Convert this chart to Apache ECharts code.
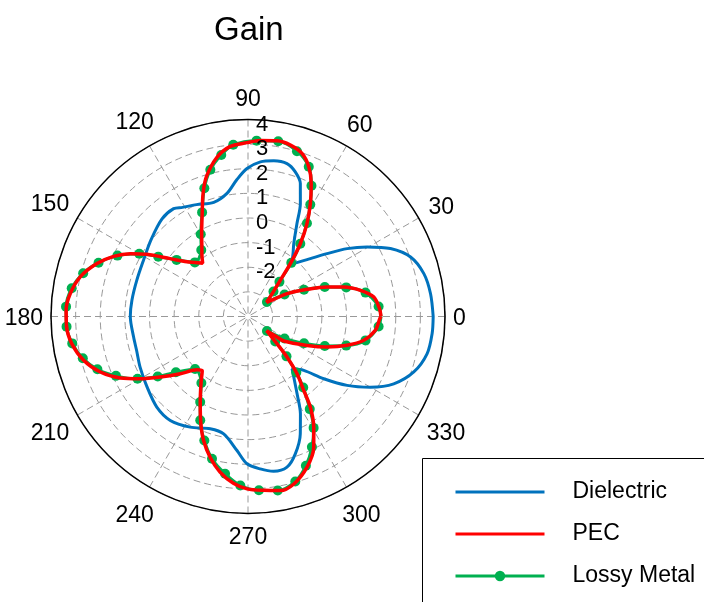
<!DOCTYPE html>
<html>
<head>
<meta charset="utf-8">
<script src="https://cdn.jsdelivr.net/npm/echarts@6/dist/echarts.min.js"></script>
<style>
  html, body { margin: 0; padding: 0; background: #ffffff; }
  #chart { width: 704px; height: 602px; }
</style>
</head>
<body>
<div id="chart"></div>
<script>
// Gain patterns in dB against azimuth (degrees)
const dielectricAngles = [0, 7.1, 13.7, 20.1, 25.5, 30.3, 34.4, 38.5, 43.9, 50.2, 54.5, 57.9, 62.2, 65.1, 68.5, 71.9, 75.7, 80.6, 85.4, 90.4, 94.7, 99.7, 106.7, 114.7, 121, 124.6, 131.5, 141.7, 151.7, 162, 172, 180, 190.2, 197, 205.1, 214.9, 224.8, 233.2, 242.4, 251.4, 258.3, 265.3, 269.6, 274.6, 279.4, 284.5, 289, 294, 298.3, 302.4, 307.1, 310.1, 316, 320.6, 325.2, 330, 335.2, 341.5, 348.3, 354.7, 360];
const dielectricGain = [3.52, 3.47, 3.35, 3.03, 2.41, 1.6, 0.88, 0.1, -0.67, -1.22, -0.85, -0.5, 0.26, 1.05, 1.8, 2.18, 2.41, 2.41, 2.3, 2.01, 1.57, 1.07, 0.84, 1.0, 1.17, 1.32, 1.28, 1.02, 0.82, 0.75, 0.76, 0.78, 0.72, 0.73, 0.84, 1.0, 1.22, 1.27, 1.07, 0.81, 0.87, 1.46, 1.98, 2.21, 2.37, 2.32, 1.9, 1.22, 0.49, -0.28, -0.92, -1.22, -0.85, -0.02, 0.9, 1.74, 2.52, 3.1, 3.43, 3.51, 3.52];

const pecAngles = [0, 3.4, 8.8, 13.1, 17.1, 20.5, 24.7, 30.3, 32.7, 37.4, 44.6, 48.3, 51.3, 54.3, 57.6, 61.1, 64.6, 67.9, 71.6, 76.1, 80.6, 86, 90.3, 96.1, 101.1, 106.5, 110, 113.9, 119.1, 124, 127, 130.4, 134.5, 138.2, 143.4, 148.4, 151.9, 155.9, 160.7, 166.7, 172.7, 178, 183, 188.8, 194.9, 200.6, 205.7, 210, 214.6, 220.2, 226.2, 229.8, 235, 241.3, 246.3, 250.3, 255, 259.8, 265, 269.7, 275.2, 280.5, 285.3, 291.4, 296.7, 300.7, 304.5, 307, 310.6, 313.9, 316.8, 318.9, 322.6, 324.6, 325.5, 333.9, 338.9, 343.8, 348.4, 353.8, 359, 360];
const pecGain = [1.40, 1.35, 1.17, 0.69, 0.07, -0.57, -1.36, -2.16, -2.6, -3.05, -2.53, -2.03, -1.25, -0.36, 0.47, 1.24, 1.98, 2.56, 2.97, 3.17, 3.23, 3.16, 3.06, 2.94, 2.58, 1.93, 1.33, 0.59, -0.13, -0.65, -0.89, -1.16, -0.92, -0.67, -0.06, 0.82, 1.42, 1.98, 2.5, 3.0, 3.28, 3.39, 3.38, 3.24, 2.91, 2.41, 1.76, 1.06, 0.33, -0.4, -1.0, -1.12, -0.67, 0.04, 0.76, 1.35, 1.93, 2.42, 2.8, 3.0, 3.09, 3.19, 3.05, 2.57, 1.94, 1.23, 0.47, -0.24, -0.94, -1.72, -2.38, -2.71, -3.05, -2.63, -2.24, -1.33, -0.56, 0.19, 0.8, 1.2, 1.35, 1.40];

// Lossy metal: marker positions along the trace (0 and 360 are pass-through points without a marker)
const lossyAngles = [0, 4.4, 11.5, 16.5, 21, 25.5, 31, 37.5, 44.5, 47.8, 51.1, 54.3, 57.7, 60.9, 64.1, 67.9, 73.5, 80.2, 87.2, 94.9, 99.4, 104.4, 108.8, 113.8, 119.9, 125.1, 134.5, 141.6, 146.3, 150, 155, 160.2, 165.3, 170.9, 176.9, 183.2, 188.7, 194.2, 199.3, 204.2, 209.4, 213.6, 217.7, 224.8, 235, 240.8, 245.3, 250.6, 255.8, 261.7, 267.4, 273.6, 279.7, 286, 291.2, 296.1, 300.5, 303.7, 307.9, 310.8, 314, 317.5, 322.5, 329, 334.5, 339, 343.5, 348.5, 355.6, 360];
const lossyGain = [1.40, 1.32, 0.87, 0.16, -0.66, -1.48, -2.27, -3.03, -2.55, -2.1, -1.2, -0.36, 0.48, 1.2, 1.9, 2.56, 3.0, 3.22, 3.15, 3.0, 2.65, 2.15, 1.5, 0.62, -0.15, -0.7, -0.92, -0.3, 0.38, 1.1, 1.85, 2.45, 2.92, 3.25, 3.4, 3.38, 3.22, 2.92, 2.48, 1.88, 1.15, 0.4, -0.3, -0.97, -0.7, -0.02, 0.64, 1.34, 1.96, 2.45, 2.87, 3.07, 3.17, 2.97, 2.5, 1.9, 1.25, 0.52, -0.35, -1.0, -1.75, -2.5, -3.03, -2.27, -1.48, -0.66, 0.16, 0.87, 1.32, 1.40];

const seriesNames = ['Dielectric', 'PEC', 'Lossy Metal'];
const angleTicks = [0, 30, 60, 90, 120, 150, 180, 210, 240, 270, 300, 330];
const angleTickLabels = ['0', '30', '60', '90', '120', '150', '180', '210', '240', '270', '300', '330'];
const radiusMin = -4, radiusMax = 4, radiusStep = 1;
const radiusLabelsShown = [4, 3, 2, 1, 0, -1, -2];

const FONT = 'Liberation Sans, Arial, sans-serif';
const ANGLE_FONT_SIZE = 23;
const ANGLE_LABEL_GAP = 8;      // space between outer circle and label box
const ANGLE_LABEL_BOX_H = 28;   // label box height used for radial clearance
const ANGLE_LABEL_NUDGE_Y = 2.5; // baseline correction for the canvas text box
const gridStyle = { color: '#999999', width: 1, type: [7, 4] };
const COLORS = { dielectric: '#0072BD', pec: '#FF0000', lossy: '#00B050' };

function toPolar(angles, values) {
  return values.map((v, i) => [v, angles[i]]);
}
function lossyData() {
  return lossyGain.map((v, i) => {
    const a = lossyAngles[i];
    const item = { value: [v, a] };
    if (a === 0 || a === 360) item.symbolSize = 0;
    return item;
  });
}

const chart = echarts.init(document.getElementById('chart'), null, { renderer: 'canvas' });
chart.setOption({
  animation: false,
  backgroundColor: '#ffffff',
  title: {
    text: 'Gain',
    left: 209,
    top: 9,
    textStyle: { fontFamily: FONT, fontSize: 33, fontWeight: 'normal', color: '#000' }
  },
  polar: [
    { center: [248, 316.5], radius: 197 },
    { center: [248, 316.5], radius: 197 }
  ],
  angleAxis: [
    {
      polarIndex: 0,
      type: 'value',
      min: 0,
      max: 360,
      interval: 30,
      startAngle: 0,
      clockwise: false,
      axisLine: { show: true, lineStyle: { color: '#000', width: 1.5 } },
      axisTick: { show: false },
      axisLabel: { show: false },
      splitLine: { show: true, lineStyle: gridStyle }
    },
    {
      polarIndex: 1,
      type: 'value',
      min: 0,
      max: 360,
      startAngle: 90,
      clockwise: false,
      show: false
    }
  ],
  radiusAxis: [
    {
      polarIndex: 0,
      type: 'value',
      min: radiusMin,
      max: radiusMax,
      interval: radiusStep,
      axisLine: { show: false },
      axisTick: { show: false },
      axisLabel: { show: false },
      splitLine: { show: true, lineStyle: gridStyle }
    },
    {
      polarIndex: 1,
      type: 'value',
      min: radiusMin,
      max: radiusMax,
      interval: radiusStep,
      z: 10,
      axisLine: { show: false },
      axisTick: { show: false },
      splitLine: { show: false },
      axisLabel: {
        show: true,
        margin: -8,
        align: 'left',
        verticalAlign: 'top',
        lineHeight: 10,
        fontFamily: FONT,
        fontSize: 22,
        color: '#000',
        formatter: (v) => (radiusLabelsShown.indexOf(v) >= 0 ? String(v) : '')
      }
    }
  ],
  legend: {
    orient: 'vertical',
    left: 422,
    top: 458,
    data: [
      { name: seriesNames[0], itemStyle: { opacity: 0 } },
      { name: seriesNames[1], itemStyle: { opacity: 0 } },
      { name: seriesNames[2] }
    ],
    selectedMode: false,
    itemWidth: 89,
    itemHeight: 13,
    itemGap: 19,
    padding: [22.5, 0, 0, 32],
    lineStyle: { width: 3 },
    textStyle: { fontFamily: FONT, fontSize: 23, color: '#000', padding: [0, 0, 0, 23] }
  },
  graphic: {
    elements: [
      {
        id: 'legendBox',
        type: 'rect',
        z: 0,
        shape: { x: 422.5, y: 458.5, width: 320, height: 200 },
        style: { fill: 'none', stroke: '#000', lineWidth: 1 }
      }
    ]
  },
  series: [
    {
      name: seriesNames[0],
      type: 'line',
      coordinateSystem: 'polar',
      polarIndex: 0,
      data: toPolar(dielectricAngles, dielectricGain),
      symbol: 'none',
      smooth: 0.3,
      lineStyle: { color: COLORS.dielectric, width: 3 },
      itemStyle: { color: COLORS.dielectric },
      z: 2
    },
    {
      name: seriesNames[2],
      type: 'line',
      coordinateSystem: 'polar',
      polarIndex: 0,
      data: lossyData(),
      symbol: 'circle',
      symbolSize: 10,
      showSymbol: true,
      smooth: 0.3,
      lineStyle: { color: COLORS.lossy, width: 3 },
      itemStyle: { color: COLORS.lossy },
      z: 3
    },
    {
      name: seriesNames[1],
      type: 'line',
      coordinateSystem: 'polar',
      polarIndex: 0,
      data: toPolar(pecAngles, pecGain),
      symbol: 'none',
      smooth: 0.3,
      lineStyle: { color: COLORS.pec, width: 3.5 },
      itemStyle: { color: COLORS.pec },
      z: 4
    }
  ]
});

// Angle tick labels: each label box sits just outside the outer circle along its own direction
(function placeAngleLabels() {
  const center = chart.convertToPixel({ seriesIndex: 0 }, [radiusMin, 0]);
  const ctx = document.createElement('canvas').getContext('2d');
  ctx.font = ANGLE_FONT_SIZE + 'px ' + FONT;
  const elements = angleTicks.map((a, i) => {
    const p = chart.convertToPixel({ seriesIndex: 0 }, [radiusMax, a]);
    const dx = p[0] - center[0], dy = p[1] - center[1];
    const R = Math.hypot(dx, dy);
    const ux = dx / R, uy = dy / R;
    const w = ctx.measureText(angleTickLabels[i]).width;
    const d = R + ANGLE_LABEL_GAP + Math.abs(ux) * w / 2 + Math.abs(uy) * ANGLE_LABEL_BOX_H / 2;
    return {
      id: 'angleLabel' + i,
      type: 'text',
      x: center[0] + ux * d,
      y: center[1] + uy * d + ANGLE_LABEL_NUDGE_Y,
      z: 10,
      style: {
        text: angleTickLabels[i],
        fontFamily: FONT,
        fontSize: ANGLE_FONT_SIZE,
        fill: '#000',
        align: 'center',
        verticalAlign: 'middle'
      }
    };
  });
  chart.setOption({ graphic: { elements: elements } });
})();
</script>
</body>
</html>
